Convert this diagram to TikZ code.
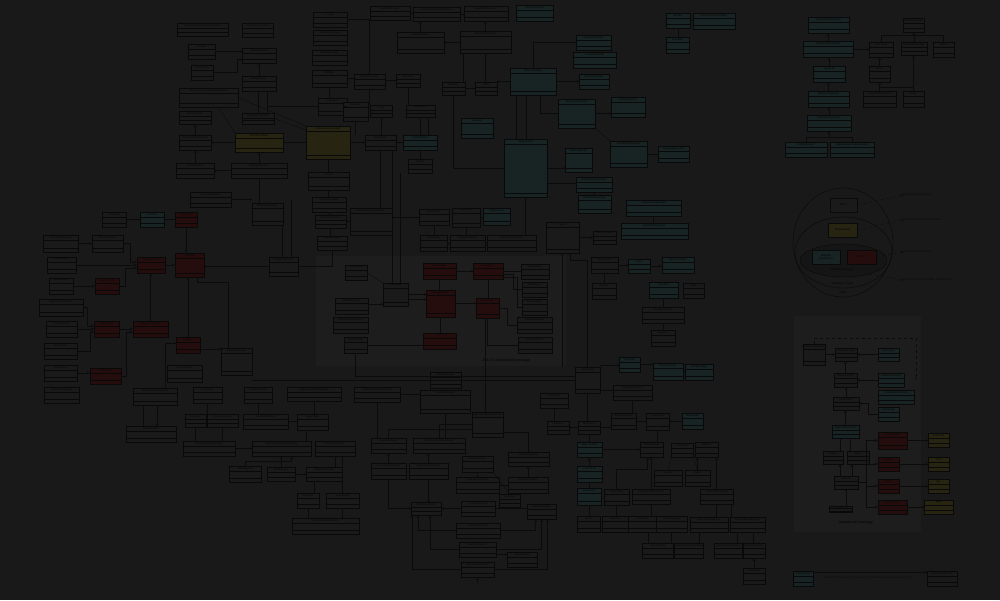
\documentclass[tikz,border=0pt]{standalone}
\usepackage{fontspec}
\setmainfont{Liberation Sans}
\usetikzlibrary{arrows.meta,shapes.geometric,calc}
\definecolor{bg}{RGB}{25,25,25}
\definecolor{boxf}{RGB}{26,26,26}
\definecolor{brd}{RGB}{9,9,9}
\definecolor{ln}{RGB}{11,11,11}
\definecolor{txt}{RGB}{10,10,10}
\definecolor{redf}{RGB}{38,13,13}
\definecolor{tealf}{RGB}{24,35,35}
\definecolor{yelf}{RGB}{39,37,17}
\definecolor{pkgf}{RGB}{29,29,29}
\definecolor{idf}{RGB}{21,21,21}
\tikzset{
  cbox/.style={draw=brd,fill=boxf,line width=0.4pt,inner sep=0pt,outer sep=0pt,rectangle},
  rbox/.style={fill=redf},
  tbox/.style={fill=tealf},
  ybox/.style={fill=yelf},
  ctitle/.style={inner sep=0pt,text=txt,font=\fontsize{2.4}{2.8}\selectfont\bfseries},
  cline/.style={draw=brd,line width=0.3pt},
  conn/.style={draw=ln,line width=0.35pt},
  gen/.style={-{Triangle[open,length=2.8pt,width=2.8pt]}},
  ar/.style={-{Straight Barb[length=1.8pt,width=2.4pt]}},
  comp/.style={{Diamond[length=3pt,width=2pt]}-},
  dia/.style={-{Diamond[length=3pt,width=2pt]}},
  lbl/.style={inner sep=0pt,text=txt,font=\fontsize{2.6}{3}\selectfont},
  pkg/.style={fill=pkgf,draw=none,inner sep=0pt,anchor=north west},
  sbox/.style={draw=brd,line width=0.4pt,inner sep=0pt,text=txt,align=center,font=\fontsize{2.6}{3}\selectfont\bfseries},
}
\newcommand\clsbox[7][]{%
  \pgfmathsetmacro\cbw{#5-#3}%
  \pgfmathsetmacro\cbh{#6-#4}%
  \node[cbox,#1,minimum width=\cbw pt,minimum height=\cbh pt,anchor=north west] (#2) at (#3,#4) {};%
  \node[ctitle] (#2t) at ([yshift=-2.4pt]#2.north) {#7};%
  \draw[cline] ([yshift=-4.8pt]#2.north west) -- ([yshift=-4.8pt]#2.north east);%
  \draw[cline] ([yshift=3.5pt]#2.south west) -- ([yshift=3.5pt]#2.south east);%
}
\newcommand\cHR[3][]{\draw[conn,#1] (#2.east) -- (#2.east -| #3.west);}
\newcommand\cHL[3][]{\draw[conn,#1] (#2.west) -- (#2.west -| #3.east);}
\newcommand\cVD[3][]{\draw[conn,#1] (#2.south) -- (#2.south |- #3.north);}
\newcommand\cVU[3][]{\draw[conn,#1] (#2.north) -- (#2.north |- #3.south);}
\begin{document}
\begin{tikzpicture}[x=1pt,y=-1pt]
\useasboundingbox (0,0) rectangle (1000,600);
\fill[bg] (0,0) rectangle (1000,600);
% packages
\node[pkg,minimum width=250pt,minimum height=110pt] (jpapkg) at (316,256) {};
\node[pkg,minimum width=127pt,minimum height=216pt] (mmpkg) at (794,316) {};
\node[inner sep=0pt,text=txt,font=\fontsize{3.6}{4}\selectfont\bfseries\itshape] (jpal) at (506,361) {JPA 2.0 metamodel package};
\node[inner sep=0pt,text=txt,font=\fontsize{3.6}{4}\selectfont\bfseries] (mml) at (856,523) {metamodel package};
% ellipses
\node[draw=brd,line width=0.4pt,ellipse,minimum width=100pt,minimum height=109pt,inner sep=0pt] (eltype) at (843,242.5) {};
\node[draw=brd,line width=0.4pt,ellipse,minimum width=97pt,minimum height=71pt,inner sep=0pt] (elman) at (843.5,252.5) {};
\node[draw=brd,line width=0.4pt,ellipse,fill=idf,minimum width=87pt,minimum height=33pt,inner sep=0pt] (elid) at (843.5,260.5) {};
\node[sbox,fill=boxf,minimum width=27pt,minimum height=14pt] (pbasic) at (843.5,205) {Basic};
\node[sbox,ybox,minimum width=29pt,minimum height=14pt] (pemb) at (842.5,230) {Embeddable};
\node[sbox,tbox,minimum width=28pt,minimum height=14pt] (pms) at (826,257) {Mapped\\Superclass};
\node[sbox,rbox,minimum width=29pt,minimum height=14pt] (pent) at (861.5,257) {Entity};
\node[lbl,font=\fontsize{3}{3.4}\selectfont\bfseries] (tid) at (842,270) {Identifiable Type};
\node[lbl,font=\fontsize{3}{3.4}\selectfont\bfseries] (tman) at (843,284) {Managed Type};
\node[lbl,font=\fontsize{3}{3.4}\selectfont\bfseries] (ttype) at (843,293) {Type};
\node[lbl,anchor=west] (lbasic) at (903,195) {PersistenceType BASIC};
\node[lbl,anchor=west] (lemb) at (903,220) {PersistenceType EMBEDDABLE};
\node[lbl,anchor=west] (lent) at (903,252) {PersistenceType ENTITY};
\node[lbl,anchor=west] (lms) at (903,280) {PersistenceType MAPPED\_SUPERCLASS};
\draw[conn,dashed,ar] (pbasic.east) -- (lbasic.west);
\draw[conn,dashed,ar] (pemb.east) -- (lemb.west);
\draw[conn,dashed,ar] (pent.east) -- (lent.west);
\draw[conn,dashed,ar] (elid.-28) -- (lms.west);
% ---------- region A
\clsbox{a1}{177}{23}{228}{36}{«interface» PersistenceProvider}
\clsbox{a2}{242}{23}{273}{37}{«interface» Session}
\clsbox{a3}{188}{44}{215}{59}{Provider}
\clsbox{a4}{242}{48}{276}{63}{EMFactoryImpl}
\clsbox{a5}{191}{65}{213}{80}{Persistence}
\clsbox{a6}{242}{76}{276}{91}{EMSetupImpl}
\clsbox{a7}{179}{88}{238}{107}{JPA 2.0 Spec: metamodel access}
\clsbox{a8}{179}{111}{211}{124}{EntityManager}
\clsbox{a9}{242}{113}{274}{124}{EntityManagerImpl}
\clsbox{a10}{179}{135}{211}{150}{RepeatableWriteUOW}
\clsbox[ybox]{a11}{235}{133}{283}{152}{UnitOfWorkImpl}
\clsbox[ybox]{a12}{306}{126}{350}{159}{DatabaseSessionImpl}
\clsbox{a13}{176}{163}{214}{178}{ServerSession}
\clsbox{a14}{231}{163}{287}{178}{AbstractSession}
\clsbox{a15}{308}{172}{349}{190}{Project}
\clsbox{a16}{190}{192}{231}{207}{DescriptorEvent}
\clsbox{a17}{313}{12}{347}{27}{Login}
\clsbox{a18}{313}{30}{347}{45}{DatasourceLogin}
\clsbox{a19}{312}{50}{347}{65}{DatabaseLogin}
\clsbox{a20}{312}{70}{347}{87}{Platform}
\clsbox{a21}{318}{98}{347}{115}{Accessor}
% ---------- region B
\clsbox{b1}{370}{6}{410}{20}{MetadataProject}
\clsbox{b2}{413}{7}{460}{21}{«interface» MetadataSource}
\clsbox{b3}{464}{6}{508}{21}{MetadataProcessor}
\clsbox[tbox]{b4}{516}{5}{553}{21}{PersistenceUnit}
\clsbox{b5}{397}{32}{444}{53}{MetadataHelper}
\clsbox{b6}{460}{31}{511}{53}{MetadataDescriptor}
\clsbox{b7}{354}{74}{385}{89}{ClassAccessor}
\clsbox{b8}{396}{74}{420}{87}{Accessor}
\clsbox{b9}{442}{82}{465}{95}{Mapping}
\clsbox{b10}{475}{82}{497}{95}{Field}
\clsbox[tbox]{b11}{510}{68}{556}{95}{MetamodelImpl}
\clsbox[tbox]{b12}{576}{35}{611}{50}{MapAttributeImpl}
\clsbox[tbox]{b13}{573}{52}{616}{68}{ListAttributeImpl}
\clsbox[tbox]{b14}{579}{74}{609}{89}{SetAttributeImpl}
\clsbox{b15}{343}{102}{368}{121}{Session}
\clsbox{b16}{370}{105}{392}{117}{Login}
\clsbox{b17}{406}{105}{435}{117}{Sequence}
\clsbox[tbox]{b18}{461}{118}{493}{138}{TypeImpl}
\clsbox[tbox]{b19}{558}{99}{595}{128}{ManagedTypeImpl}
\clsbox[tbox]{b20}{611}{97}{645}{117}{EntityTypeImpl}
\clsbox{b21}{365}{135}{396}{150}{Descriptor}
\clsbox[tbox]{b22}{403}{135}{437}{150}{ObjectBuilder}
\clsbox{b23}{408}{159}{432}{173}{Policy}
\clsbox[tbox]{b24}{504}{139}{547}{197}{AttributeImpl}
\clsbox[tbox]{b25}{565}{148}{592}{172}{BasicTypeImpl}
\clsbox[tbox]{b26}{610}{141}{647}{167}{IdentifiableTypeImpl}
\clsbox[tbox]{b27}{658}{146}{689}{162}{MappedSuperclass}
\clsbox[tbox]{b28}{576}{177}{612}{192}{EmbeddableTypeImpl}
\clsbox[tbox]{b29}{578}{195}{611}{213}{PluralAttributeImpl}
% ---------- region C
\clsbox[tbox]{c1}{666}{13}{690}{28}{Member}
\clsbox[tbox]{c2}{693}{13}{735}{29}{CollectionAttributeImpl}
\clsbox[tbox]{c3}{666}{37}{689}{53}{Bindable}
\clsbox[tbox]{c4}{808}{17}{849}{33}{SingularAttributeImpl}
\clsbox[tbox]{c5}{803}{41}{853}{57}{AbstractAttributeImpl}
\clsbox{c6}{869}{42}{893}{57}{Java Class}
\clsbox{c7}{903}{18}{924}{32}{«interface» Type}
\clsbox{c8}{901}{42}{927}{55}{ParameterizedType}
\clsbox{c9}{933}{42}{954}{57}{Literal}
\clsbox[tbox]{c10}{813}{66}{845}{82}{TypeImpl}
\clsbox{c11}{869}{66}{890}{82}{Class}
\clsbox[tbox]{c12}{808}{91}{849}{107}{ManagedTypeImpl}
\clsbox{c13}{863}{91}{896}{107}{GenericDeclaration}
\clsbox{c14}{903}{91}{924}{107}{Field}
\clsbox[tbox]{c15}{807}{115}{851}{131}{IdentifiableTypeImpl}
\clsbox[tbox]{c16}{785}{142}{827}{157}{EntityTypeImpl}
\clsbox[tbox]{c17}{830}{142}{874}{157}{MappedSuperclassTypeImpl}
% ---------- region D
\clsbox{d1}{252}{203}{283}{225}{DatabaseMapping}
\clsbox{d2}{312}{197}{346}{212}{ClassDescriptor}
\clsbox{d3}{102}{212}{126}{227}{Collection}
\clsbox[tbox]{d4}{140}{212}{164}{227}{Container}
\clsbox[rbox]{d5}{175}{212}{197}{227}{Bindable}
\clsbox{d6}{43}{235}{78}{252}{DirectMapMapping}
\clsbox{d7}{92}{235}{123}{252}{DirectCollection}
\clsbox[rbox]{d8}{137}{257}{165}{273}{PluralAttribute}
\clsbox[rbox]{d9}{175}{253}{204}{277}{Attribute}
\clsbox{d10}{269}{257}{298}{276}{ForeignReference}
\clsbox{d11}{47}{257}{76}{273}{ManyToMany}
\clsbox{d12}{49}{278}{73}{294}{OneToMany}
\clsbox[rbox]{d13}{95}{278}{119}{294}{MapAttribute}
\clsbox{d14}{39}{299}{83}{316}{AggregateCollection}
\clsbox{d15}{46}{321}{77}{337}{ArrayMapping}
\clsbox[rbox]{d16}{94}{321}{119}{337}{ListAttribute}
\clsbox[rbox]{d17}{133}{321}{168}{337}{CollectionAttribute}
\clsbox{d18}{44}{343}{77}{359}{NestedTable}
\clsbox[rbox]{d19}{176}{337}{200}{353}{Singular}
\clsbox{d20}{221}{348}{252}{375}{ObjectReference}
\clsbox{d21}{44}{365}{77}{381}{ObjectArray}
\clsbox[rbox]{d22}{90}{368}{121}{384}{SetAttribute}
\clsbox{d23}{167}{365}{202}{382}{DirectToField}
\clsbox{d24}{44}{387}{79}{403}{StructureMapping}
\clsbox{d25}{133}{388}{177}{405}{AbstractDirectMapping}
\clsbox{d26}{193}{387}{222}{403}{OneToOne}
\clsbox{d27}{244}{387}{272}{403}{Transformation}
\clsbox{d28}{287}{387}{341}{401}{AggregateObjectMapping}
\clsbox{d29}{315}{215}{346}{228}{InheritancePolicy}
\clsbox{d30}{317}{236}{347}{250}{QueryManager}
% ---------- region E
\clsbox{e1}{350}{208}{392}{235}{DescriptorQueryManager}
\clsbox{e2}{419}{209}{449}{225}{Expression}
\clsbox{e3}{452}{208}{480}{227}{QueryKey}
\clsbox[tbox]{e4}{483}{208}{510}{225}{AttributeKey}
\clsbox{e5}{420}{235}{447}{251}{ReadQuery}
\clsbox{e6}{450}{235}{485}{251}{ObjectLevelRead}
\clsbox{e7}{487}{235}{536}{251}{ReportQueryResult}
\clsbox{e8}{546}{222}{579}{253}{Project}
\clsbox{e9}{593}{231}{616}{244}{«enum» Types}
\clsbox[tbox]{e10}{626}{200}{681}{216}{SingularAttributeImpl}
\clsbox[tbox]{e11}{621}{223}{688}{239}{PluralAttributeImpl}
\clsbox{e12}{345}{265}{367}{280}{TypeSystem}
\clsbox[rbox]{e13}{423}{263}{456}{279}{Metamodel}
\clsbox[rbox]{e14}{473}{263}{503}{279}{EntityType}
\clsbox{e15}{521}{264}{549}{279}{Embeddable}
\clsbox{e16}{383}{283}{408}{306}{JavaType}
\clsbox[rbox]{e17}{426}{290}{455}{317}{ManagedType}
\clsbox[rbox]{e18}{476}{298}{499}{318}{Identifiable}
\clsbox{e19}{522}{282}{547}{297}{BasicType}
\clsbox{e20}{522}{299}{547}{315}{MappedSuper}
\clsbox{e21}{335}{298}{368}{314}{EntityManager}
\clsbox{e22}{333}{317}{368}{333}{EntityManagerFactory}
\clsbox{e23}{517}{317}{552}{333}{SingularAttribute}
\clsbox[rbox]{e24}{423}{333}{456}{349}{Type}
\clsbox{e25}{344}{337}{367}{353}{QueryBuilder}
\clsbox{e26}{518}{337}{552}{353}{PluralAttribute}
\clsbox{e27}{591}{257}{618}{273}{Metamodel}
\clsbox[tbox]{e28}{628}{259}{650}{273}{Impl}
\clsbox[tbox]{e29}{649}{282}{678}{298}{TypeImpl}
\clsbox{e30}{592}{283}{616}{299}{Session}
\clsbox[tbox]{e31}{662}{257}{694}{273}{MetamodelImpl}
\clsbox{e32}{683}{283}{704}{298}{Helper}
\clsbox{e33}{642}{307}{684}{323}{ClassDescriptor}
\clsbox{e34}{651}{330}{675}{346}{Mapping}
\clsbox{e35}{430}{372}{461}{388}{MappingHelper}
\clsbox{e36}{575}{367}{600}{393}{Descriptor}
\clsbox[tbox]{e37}{619}{357}{640}{372}{TypeImpl}
\clsbox[tbox]{e38}{653}{363}{683}{380}{BasicTypeImpl}
\clsbox[tbox]{e39}{685}{364}{713}{380}{ManagedType}
\clsbox{e40}{613}{385}{652}{400}{ForeignReference}
\clsbox{e41}{354}{387}{400}{402}{CollectionContainerPolicy}
\clsbox{e42}{540}{393}{568}{408}{Container}
\clsbox{e43}{420}{390}{470}{413}{ContainerPolicy}
% ---------- metamodel package
\clsbox{m1}{803}{344}{825}{365}{«interface» Metamodel}
\clsbox{m2}{835}{348}{857}{361}{«interface» Type}
\clsbox[tbox]{m3}{878}{348}{899}{361}{BasicType}
\clsbox{m4}{834}{373}{857}{387}{ManagedType}
\clsbox[tbox]{m5}{878}{373}{904}{387}{EmbeddableType}
\clsbox[tbox]{m6}{878}{390}{914}{404}{«interface» Attribute}
\clsbox{m7}{833}{397}{859}{410}{Identifiable}
\clsbox[tbox]{m8}{878}{407}{899}{421}{EntityType}
\clsbox[tbox]{m9}{832}{425}{859}{438}{MappedSuperclass}
\clsbox[rbox]{m10}{878}{432}{907}{449}{CollectionAttr}
\clsbox[ybox]{m11}{928}{433}{949}{447}{Collection}
\clsbox{m12}{823}{451}{843}{464}{Singular}
\clsbox{m13}{847}{451}{869}{464}{Plural}
\clsbox[rbox]{m14}{878}{457}{899}{471}{ListAttr}
\clsbox[ybox]{m15}{928}{457}{949}{471}{List}
\clsbox{m16}{834}{476}{858}{489}{Attribute}
\clsbox[rbox]{m17}{878}{479}{899}{493}{SetAttr}
\clsbox[ybox]{m18}{928}{479}{949}{493}{Set}
\clsbox{m19}{829}{506}{852}{512}{Member}
\clsbox[rbox]{m20}{878}{500}{907}{514}{MapAttribute}
\clsbox[ybox]{m21}{924}{500}{953}{514}{Map}
% legend
\clsbox[tbox]{l1}{793}{571}{813}{586}{Internal API}
\clsbox{l2}{927}{571}{957}{586}{External Public API}
\node[lbl] (legt) at (868,578) {EclipseLink trunk UML Class Diagram 20091114 obrien www.eclipselink.org};
\draw[conn,ar] ([yshift=-1pt]l1.north east) -- ([yshift=-1pt]l1.north east -| l2.west);
% ---------- lower right
\clsbox[tbox]{r1}{682}{413}{703}{429}{Metamodel}
\clsbox{r2}{671}{443}{693}{457}{no attribute}
\clsbox{r3}{695}{442}{718}{457}{Attribute}
\clsbox{r4}{654}{470}{682}{486}{Singular}
\clsbox{r5}{685}{470}{710}{486}{Plural}
\clsbox{r6}{700}{489}{733}{504}{CollectionMapping}
\clsbox{r7}{656}{516}{687}{532}{DirectMapping}
\clsbox{r8}{690}{517}{728}{532}{OneToManyMapping}
\clsbox{r9}{730}{517}{765}{532}{ManyToManyMapping}
\clsbox{r10}{642}{543}{673}{558}{DirectToField}
\clsbox{r11}{674}{543}{703}{558}{UnidirectionalOneToMany}
\clsbox{r12}{714}{543}{742}{558}{AggregateCollection}
\clsbox{r13}{743}{543}{765}{558}{DirectCollection}
\clsbox{r14}{743}{568}{765}{584}{DirectMap}
% ---------- lower middle
\clsbox{s1}{472}{412}{503}{437}{MappedKeyMapContainer}
\clsbox{s2}{547}{421}{569}{434}{ListPolicy}
\clsbox{s3}{578}{421}{600}{434}{MapPolicy}
\clsbox{s4}{611}{413}{636}{429}{SortedCollection}
\clsbox{s5}{646}{413}{669}{430}{OrderedList}
\clsbox{s6}{315}{441}{355}{456}{IndirectContainer}
\clsbox{s7}{371}{438}{406}{453}{ContainerPolicy}
\clsbox{s8}{413}{438}{465}{453}{InterfaceContainerPolicy}
\clsbox[tbox]{s9}{577}{442}{602}{457}{MapContainer}
\clsbox{s10}{640}{442}{663}{457}{ListContainer}
\clsbox{s11}{508}{452}{549}{466}{DirectMapPolicy}
\clsbox{s12}{371}{463}{406}{479}{ListContainerPolicy}
\clsbox{s13}{409}{463}{448}{479}{MapContainerPolicy}
\clsbox{s14}{462}{456}{493}{472}{SortedSetPolicy}
\clsbox{s15}{456}{477}{499}{493}{OrderedListPolicy}
\clsbox{s16}{508}{477}{548}{493}{HashtablePolicy}
\clsbox{s17}{499}{494}{520}{507}{no longer}
\clsbox[tbox]{s18}{577}{466}{602}{482}{IndirectList}
\clsbox[tbox]{s19}{577}{488}{601}{505}{IndirectSet}
\clsbox{s20}{604}{489}{629}{505}{IndirectMap}
\clsbox{s21}{632}{489}{670}{504}{TransparentIndirection}
\clsbox{s22}{326}{493}{359}{508}{ValueHolder}
\clsbox{s23}{411}{502}{441}{515}{«interface» Policy}
\clsbox{s24}{461}{501}{495}{516}{CollectionPolicy}
\clsbox{s25}{527}{504}{556}{519}{MappedKeyMap}
\clsbox{s26}{292}{518}{359}{534}{DatabaseValueHolder}
\clsbox{s27}{456}{523}{500}{538}{IndirectionPolicy}
\clsbox{s28}{577}{516}{600}{532}{Vector}
\clsbox{s29}{602}{516}{628}{532}{HashSet}
\clsbox{s30}{628}{516}{656}{532}{Hashtable}
\clsbox{s31}{459}{542}{496}{557}{BasicIndirection}
\clsbox{s32}{507}{552}{537}{567}{NoIndirection}
\clsbox{s33}{461}{562}{494}{577}{ContainerIndirection}
% ---------- lower left
\clsbox{t1}{126}{426}{176}{442}{ObjectBuilder}
\clsbox{t2}{185}{414}{206}{427}{Converter}
\clsbox{t3}{207}{414}{238}{427}{TypeConversion}
\clsbox{t4}{243}{414}{288}{429}{SerializedObject}
\clsbox{t5}{297}{414}{328}{430}{ObjectType}
\clsbox{t6}{183}{441}{235}{456}{AbstractDirectMapping}
\clsbox{t7}{252}{441}{311}{456}{AbstractCompositeMapping}
\clsbox{t8}{229}{466}{261}{482}{XMLMapping}
\clsbox{t9}{267}{467}{295}{481}{EIS Mapping}
\clsbox{t10}{306}{467}{342}{481}{ObjectRelational}
\clsbox{t11}{297}{493}{319}{508}{Structure}
% ================= connectors
% A
\cHR[ar]{a3}{a4}
\draw[conn,ar] (a5.east) -- ++(24,0) |- ([yshift=-4pt]a4.west);
\cVU[gen]{a6}{a4}
\draw[conn] ([xshift=-1pt]a6.south) -- ([xshift=-1pt]a6.south |- a9.north);
\draw[conn] ([xshift=8pt]a6.south) -- ([xshift=8pt]a6.south |- a9.north);
\cVU[gen]{a10}{a8}
\cVU[gen]{a13}{a10}
\cHR[comp]{a10}{a11}
\cHR[comp]{a13}{a14}
\cVU[gen]{a14}{a11}
\cHR{a11}{a12}
\draw[conn] ([xshift=10pt]a7.south) -- (a11.north west);
\draw[conn] (a7.east) -- (a12.north west);
\draw[conn] (a9.east) -- ([yshift=-4pt]a12.north west);
\draw[conn] (a21.west) -- ++(-51,0);
\cVD{a20}{a21}
\cVD{a12}{a15}
\cVD{a14}{d1}
\cHR[ar]{a16}{d1}
% B
\draw[conn] (a17.east) -| (b7.north);
\cVU[gen]{b5}{b2}
\cVU[gen]{b6}{b3}
\cHR[comp]{b5}{b6}
\cVD{b6}{b10}
\draw[conn] ([xshift=3pt]b6.south west) -- ([xshift=3pt]b6.south west |- b9.north);
\cHR{b9}{b10}
\cHL[ar]{b11}{b10}
\draw[conn] (b11.north) |- (b12.west);
\cHR[ar]{b11}{b14}
\draw[conn] ([xshift=-17pt]b11.south) -- ([xshift=-17pt]b11.south |- b24.north);
\draw[conn] ([xshift=-7pt]b11.south) -- ([xshift=-7pt]b11.south |- b24.north);
\draw[conn] ([xshift=7pt]b11.south) |- (b19.west);
\draw[conn] (b9.south) |- (b24.west);
\cHR[ar]{b24}{b25}
\cHR[ar]{b19}{b20}
\draw[conn] (b19.south east) -- (b26.north west);
\cHR{b26}{b27}
\cVD{b16}{b21}
\cVD{b17}{b22}
\draw[conn] ([xshift=8pt]b17.south) -- ([xshift=8pt]b17.south |- b22.north);
\cHR{b21}{b22}
\cVD{b22}{b23}
\cHR[ar]{a12}{b21}
\cVD{b15}{b21}
\cVD{b21}{e1}
\cHL{b8}{b7}
\cVD{b8}{b17}
\cVD{b7}{b16}
\cHR{b1}{b2}
\cHR{b2}{b3}
\cHR{a20}{b7}
\cHR{a21}{b15}
\draw[conn] ([yshift=-15pt]b24.east) -- ([yshift=-15pt]b24.east -| b28.west);
\cVD{b28}{b29}
\draw[conn] (b24.south) -- (b24.south |- e7.north);
% C
\cVU[gen]{c5}{c4}
\cHR[ar]{c5}{c6}
\cVU[gen]{c10}{c5}
\cVU[gen]{c12}{c10}
\cVU[gen]{c15}{c12}
\cVU[gen]{c11}{c6}
\draw[conn] (c6.north) -- ++(0,-7) -| (c9.north);
\cVU[gen]{c8}{c7}
\cVU[gen]{c14}{c8}
\cVU[gen]{c13}{c11}
\draw[conn] (c13.north) ++(0,-4) -- ++(34,0);
\draw[conn] (c16.north) -- ++(0,-5) -| (c17.north);
\draw[conn,gen] (c15.south) ++(0,6) -- (c15.south);
\cHR{c1}{c2}
\cVD{c1}{c3}
% D
\cHR{d3}{d4}
\cHR{d4}{d5}
\cVD[gen]{d5}{d9}
\cHR[gen]{d6}{d7}
\draw[conn,gen] (d7.east) -- ++(7,0) |- ([yshift=3pt]d8.west);
\cHR[gen]{d11}{d8}
\cHR[gen]{d12}{d13}
\draw[conn,gen] (d13.east) -- ++(6,0) |- ([yshift=-3pt]d8.west);
\cHR[gen]{d8}{d9}
\cHL[dia]{d10}{d9}
\draw[conn] ([xshift=15pt]d1.south) -- ([xshift=15pt]d1.south |- d10.north);
\draw[conn] ([xshift=8pt]d10.north) -- ++(0,-57);
\cVU[gen]{d17}{d8}
\draw[conn,gen] (d14.east) -- ++(4,0) |- ([yshift=3pt]d16.west);
\cHR[gen]{d15}{d16}
\draw[conn,gen] (d18.east) -- ++(13,0) |- ([yshift=-3pt]d16.west);
\cHR[gen]{d16}{d17}
\cHR[gen]{d21}{d22}
\draw[conn,gen] (d22.east) -- ++(5,0) |- ([yshift=-3pt]d17.west);
\cVU[gen]{d19}{d9}
\draw[conn] ([xshift=8pt]d9.south) -- ++(0,5) -| ([xshift=-8pt]d20.north);
\draw[conn,ar] ([yshift=-4pt]d19.east) -- ([yshift=-4pt]d19.east -| d20.west);
\draw[conn,ar] ([xshift=10pt]d25.north) |- ([yshift=2pt]d19.west);
\draw[conn] ([yshift=-5pt]d20.south east) -- ([yshift=-5pt]d20.south east -| e36.west);
\draw[conn] (e25.south) |- ([yshift=4pt]e36.west);
\cVD{a15}{d2}
\cVD{d2}{d29}
\cVD{d29}{d30}
\cHR{d29}{e1}
\draw[conn] (d10.east) -| (d30.south);
% E
\draw[conn] ([xshift=-3pt]e16.north) -- ([xshift=-3pt]e16.north |- b21.south);
\draw[conn] ([xshift=5pt]e16.north) -- ++(0,-110);
\cHR[ar]{e16}{e17}
\draw[conn,ar] ([yshift=-5pt]e16.east) -- ([yshift=-5pt]e16.east -| e17.west);
\cHR[ar]{e13}{e14}
\cVD{e13}{e17}
\cVD{e14}{e18}
\cHR[ar]{e17}{e18}
\cVD{e17}{e24}
\cHR{e14}{e15}
\draw[conn] ([yshift=-3pt]e14.east) -- ++(10,0) |- (e19.west);
\draw[conn] ([yshift=-6pt]e14.east) -- ++(14,0) |- (e20.west);
\draw[conn] (e18.south) |- (e26.west);
\draw[conn] (e18.east) -- ++(8,0) |- (e23.west);
\draw[conn] (e12.east) -- (e16.north west);
\draw[conn,ar] ([yshift=2pt]e21.east) -- ([yshift=2pt]e21.east -| e16.west);
\cHR{e25}{e24}
\draw[conn] ([xshift=-2pt]e18.south) -- ([xshift=-2pt]e18.south |- s1.north);
\draw[conn] (e8.south) -- ++(0,114);
\draw[conn] ([xshift=8pt]e8.south) -- ++(0,7) -| (e36.north);
\cHR[ar]{e8}{e9}
\cHR[ar]{e27}{e28}
\cHR[gen]{e28}{e31}
\cVD{e27}{e30}
\draw[conn,ar] ([yshift=15pt]e36.east) -- ([yshift=15pt]e36.east -| e37.west);
\cHR[gen]{e37}{e38}
\cHR{e38}{e39}
\draw[conn] ([yshift=-10pt]e36.east) -- ([yshift=-10pt]e36.east -| e40.west);
\cHR{e5}{e6}
\cHR{e6}{e7}
\cVD{e2}{e5}
\cVD{e3}{e6}
\cHR{e3}{e4}
\cHL[ar]{e2}{e1}
\cVU{e33}{e29}
\cVU{e34}{e33}
\cVD{e10}{e11}
\cVD{e35}{e43}
\cVD{e43}{s8}
\cVD{e41}{s7}
\cHR{e41}{e43}
\cVD{e42}{s2}
% metamodel
\cHR[ar]{m1}{m2}
\cHL[gen]{m3}{m2}
\cVU[gen]{m4}{m2}
\cHL[gen]{m5}{m4}
\cVU[gen]{m7}{m4}
\draw[conn,gen] (m8.west) -- ++(-10,0) |- (m7.east);
\cVU[gen]{m9}{m7}
\draw[conn,gen] ([xshift=-6pt]m16.north) -- ++(0,-12);
\draw[conn,gen] ([xshift=6pt]m16.north) -- ++(0,-12);
\draw[conn] ([xshift=-5pt]m9.south) -- ++(0,13);
\draw[conn] ([xshift=5pt]m9.south) -- ++(0,13);
\draw[conn,comp] (m16.south) -- (m16.south |- m19.north);
\draw[conn,gen] (m16.east) -- ++(8,0) |- (m10.west);
\draw[conn,gen] (m16.east) -- ++(8,0) |- (m14.west);
\draw[conn,gen] (m16.east) -- ++(8,0) |- (m17.west);
\draw[conn,gen] (m16.east) -- ++(8,0) |- (m20.west);
\cHR[ar]{m10}{m11}
\cHR[ar]{m14}{m15}
\cHR[ar]{m17}{m18}
\cHR[ar]{m20}{m21}
\draw[conn,dashed,ar] (m1.north) -- ++(0,-6) -| ([xshift=12pt]m5.east);
% lower left
\cVD{t2}{t6}
\cVD{t3}{t6}
\cHR[ar]{t6}{t7}
\cHR{t4}{t5}
\draw[conn] ([xshift=-6pt]t5.south) -- ([xshift=-6pt]t5.south |- t7.north);
\draw[conn,gen] (t8.north) -- ++(0,-5) -| ([xshift=10pt]t7.south);
\cVU[gen]{t9}{t7}
\cHR[ar]{t9}{t10}
\draw[conn] ([xshift=-10pt]t10.south) -- ([xshift=-10pt]t10.south |- t11.north);
\cVD{t11}{s26}
\draw[conn] ([xshift=-8pt]t1.north) -- ([xshift=-8pt]t1.north |- d25.south);
\draw[conn,comp] ([xshift=6pt]t1.north) -- ([xshift=6pt]t1.north |- d25.south);
\cVD{d26}{t3}
\cVD{d27}{t4}
\cVD{d28}{t5}
\cVD{s6}{t10}
\cVU{s22}{s6}
\cVD{s22}{s26}
% lower middle
\draw[conn] (s1.west) -| (s8.north);
\draw[conn] ([yshift=-5pt]s1.west) -| (s7.north);
\cVU[gen]{s12}{s7}
\cVU[gen]{s13}{s8}
\cVD{s14}{s15}
\cHR{s15}{s16}
\cVU[gen]{s16}{s11}
\draw[conn] (s14.south east) -- (s17.north);
\draw[conn] (s11.north) |- ([yshift=-8pt]s1.east);
\draw[conn,ar] (s12.south) |- (s23.west);
\cVD[ar]{s13}{s23}
\cHL[gen]{s24}{s23}
\cHR{s24}{s25}
\draw[conn,gen] (s27.west) -| ([xshift=-8pt]s23.south);
\draw[conn,gen] (s31.west) -| ([xshift=4pt]s23.south);
\draw[conn,gen] (s33.west) -| ([xshift=-14pt]s23.south);
\draw[conn,gen] (s27.east) -| ([xshift=-6pt]s25.south);
\draw[conn,gen] (s31.east) -| (s25.south);
\draw[conn,gen] (s33.east) -| ([xshift=6pt]s25.south);
\draw[conn,ar] ([yshift=-5pt]s31.east) -- ([yshift=-5pt]s31.east -| s32.west);
\draw[conn,gen] (s33.south) ++(0,6) -- (s33.south);
\cVU[gen]{s18}{s9}
\cVD{s18}{s19}
\cHR[ar]{s9}{s10}
\draw[conn,gen] (s20.north) -- ++(0,-20) -| ([xshift=-4pt]s10.south);
\cVU[gen]{s21}{s10}
\cVD{s19}{s28}
\cVD{s20}{s29}
\cVD{s21}{s30}
\draw[conn] ([xshift=6pt]s30.south) -- ([xshift=6pt]s30.south |- r10.north);
\cHL[ar]{s3}{s2}
\cVD{s3}{s9}
\cHR{s3}{s4}
\cHR{s4}{s5}
\cVD{s5}{s10}
\cVD{e36}{s3}
\cVD{e40}{s4}
% lower right
\cHL[ar]{r1}{s5}
\draw[conn] (r2.south west) -- (r4.north);
\draw[conn] (r2.south east) -- (r5.north);
\cVU[gen]{r5}{r3}
\cVU[gen]{r6}{r3}
\cVD{r6}{r8}
\draw[conn] ([xshift=15pt]r6.south) -- ([xshift=15pt]r6.south |- r9.north);
\cVD{r7}{r10}
\draw[conn] ([xshift=-10pt]r8.south) -- ([xshift=-10pt]r8.south |- r11.north);
\draw[conn] ([xshift=-10pt]r9.south) -- ([xshift=-10pt]r9.south |- r12.north);
\draw[conn] ([xshift=6pt]r9.south) -- ([xshift=6pt]r9.south |- r13.north);
\cVU[gen]{r14}{r13}
\end{tikzpicture}
\end{document}
